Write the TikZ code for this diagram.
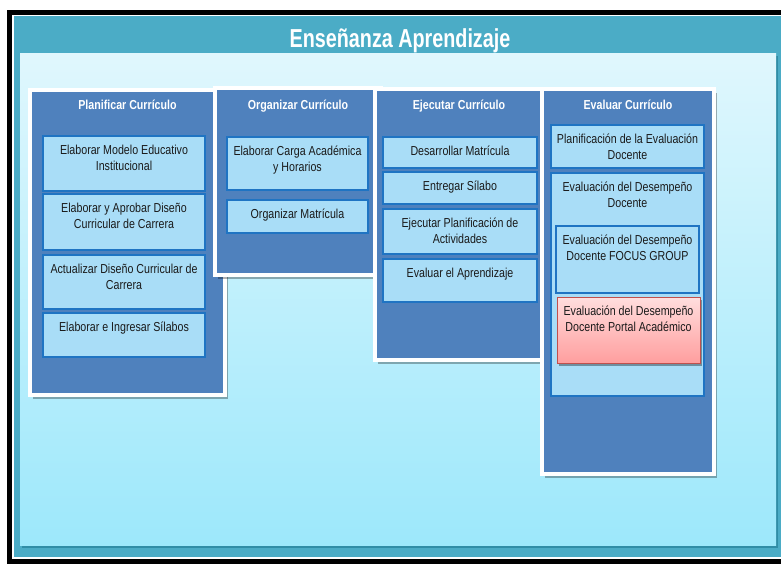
\documentclass[tikz,border=0pt]{standalone}
\usepackage{fontspec}
\setmainfont{Liberation Sans}
\newfontfamily\narrowsans[FakeStretch=0.82]{Liberation Sans}
\newfontfamily\titlesans[FakeStretch=0.76]{Liberation Sans}
\usetikzlibrary{shadows}

\definecolor{frameteal}{HTML}{4BACC6}
\definecolor{shadeteal}{HTML}{2E8AA3}
\definecolor{bgtop}{HTML}{E0F7FD}
\definecolor{bgbottom}{HTML}{9DE8FB}
\definecolor{panelblue}{HTML}{4F81BD}
\definecolor{boxfill}{HTML}{A9DDF7}
\definecolor{boxline}{HTML}{1F74C3}
\definecolor{redtop}{HTML}{FFDEDE}
\definecolor{redbottom}{HTML}{FF9E9E}
\definecolor{redline}{HTML}{C0504D}
\definecolor{inktext}{HTML}{1A1A1A}

% activity box: name, x1, y1, x2, y2, label
\newcommand\actbox[7][]{%
  \node[cbox,#1,anchor=north west,minimum width=#5pt-#3pt,minimum height=#6pt-#4pt] (#2) at (#3,#4) {};
  \node[ctext,anchor=north,yshift=-8.5pt] (#2-txt) at (#2.north) {#7};}

% process column: name, x1, y1, x2, y2, heading
\newcommand\procpanel[6]{%
  \node[panel,anchor=north west,minimum width=#4pt-#2pt,minimum height=#5pt-#3pt] (#1) at (#2,#3) {};
  \node[ptitle,anchor=base] (#1-title) at ({(#2+#4)/2},109) {#6};}

\begin{document}
\begin{tikzpicture}[x=1pt,y=-1pt,
  panel/.style={draw=white,line width=4pt,fill=panelblue,inner sep=0pt,outer sep=0pt,
    drop shadow={shadow xshift=2.5pt,shadow yshift=-4pt,opacity=0.3,fill=black}},
  cbox/.style={draw=boxline,line width=1.5pt,fill=boxfill,inner sep=0pt,outer sep=0pt},
  redbox/.style={draw=redline,line width=1pt,top color=redtop,bottom color=redbottom,
    drop shadow={shadow xshift=1.5pt,shadow yshift=-2.5pt,opacity=0.35,fill=black}},
  ctext/.style={font=\narrowsans\fontsize{13}{16}\selectfont,align=center,inner sep=0pt,text=inktext},
  ptitle/.style={font=\narrowsans\bfseries\fontsize{13}{16}\selectfont,inner sep=0pt,text=white}]

\useasboundingbox (0,0) rectangle (781,565);
\clip (0,0) rectangle (781,565);
\fill[white] (0,0) rectangle (781,565);

% outer frame and teal band
\draw[line width=5pt,black] (9.5,12) rectangle (800,561.5);
\fill[frameteal] (14,16) rectangle (800,557);

% light work area
\path[top color=bgtop,bottom color=bgbottom,
  drop shadow={shadow xshift=2pt,shadow yshift=-3pt,opacity=0.9,fill=shadeteal}]
  (20,53) rectangle (776,545);

\node[font=\titlesans\bfseries\fontsize{26}{30}\selectfont,text=white,inner sep=0pt,anchor=base]
  (maintitle) at (400,47) {Enseñanza Aprendizaje};

% Planificar Currículo
\procpanel{plan}{30}{90}{225}{395}{Planificar Currículo}
\actbox{p1}{43}{136}{205}{191}{Elaborar Modelo Educativo\\Institucional}
\actbox{p2}{43}{194}{205}{250}{Elaborar y Aprobar Diseño\\Curricular de Carrera}
\actbox{p3}{43}{255}{205}{309}{Actualizar Diseño Curricular de\\Carrera}
\actbox{p4}{43}{313}{205}{357}{Elaborar e Ingresar Sílabos}

% Organizar Currículo
\procpanel{org}{215}{88}{381}{275}{Organizar Currículo}
\actbox{o1}{227}{137}{368}{190}{Elaborar Carga Académica\\y Horarios}
\actbox{o2}{227}{200}{368}{233}{Organizar Matrícula}

% Ejecutar Currículo
\procpanel{eje}{375}{89}{543}{360}{Ejecutar Currículo}
\actbox{e1}{383}{137}{537}{168}{Desarrollar Matrícula}
\actbox{e2}{383}{172}{537}{204}{Entregar Sílabo}
\actbox{e3}{383}{209}{537}{254}{Ejecutar Planificación de\\Actividades}
\actbox{e4}{383}{259}{537}{302}{Evaluar el Aprendizaje}

% Evaluar Currículo
\procpanel{eva}{542}{89}{714}{474}{Evaluar Currículo}
\actbox{v1}{551}{125}{704}{168}{Planificación de la Evaluación\\Docente}
\actbox{v2}{551}{173}{704}{396}{Evaluación del Desempeño\\Docente}
\actbox{v3}{556}{226}{699}{293}{Evaluación del Desempeño\\Docente FOCUS GROUP}
\actbox[redbox]{v4}{557}{297}{700}{363}{Evaluación del Desempeño\\Docente Portal Académico}

\end{tikzpicture}
\end{document}
